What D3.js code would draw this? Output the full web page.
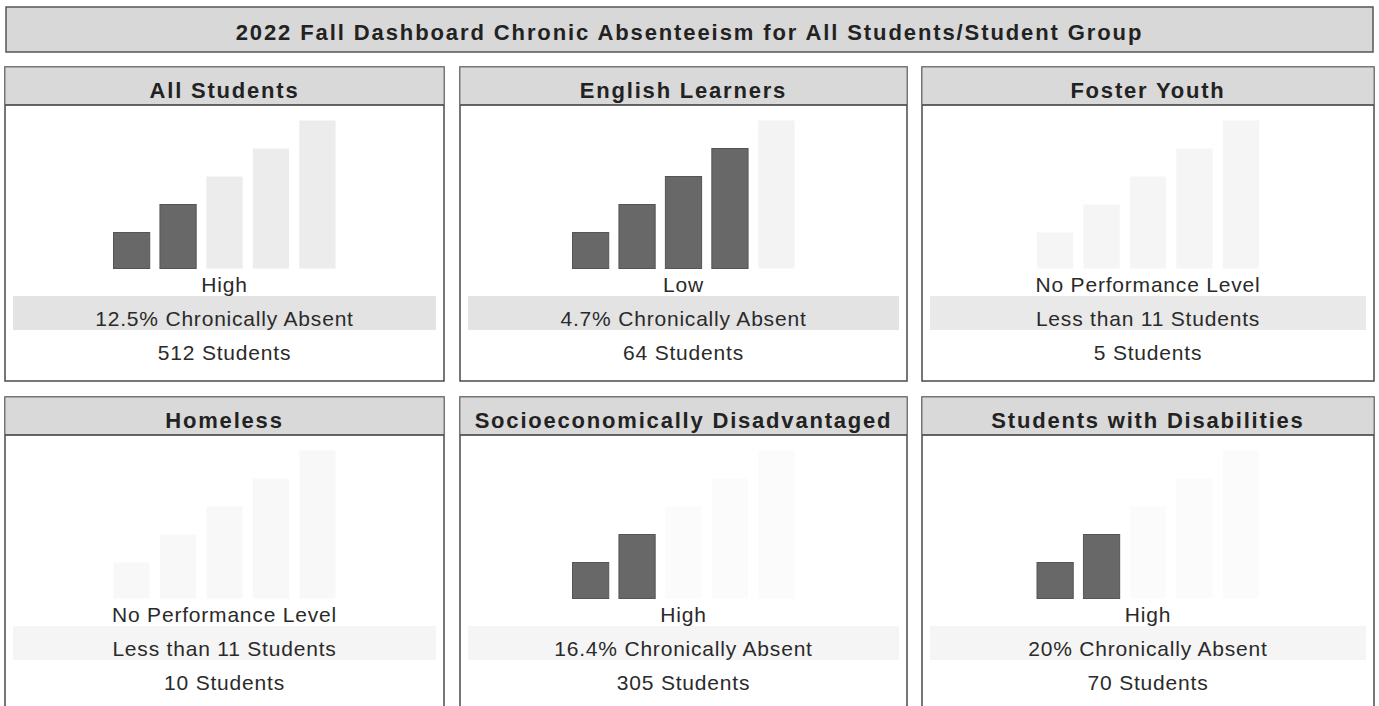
<!DOCTYPE html>
<html>
<head>
<meta charset="utf-8">
<script src="https://cdn.jsdelivr.net/npm/d3@7"></script>
<style>
  html, body { margin: 0; padding: 0; background: #ffffff; }
  svg { display: block; }
  text { font-family: "Liberation Sans", Arial, Helvetica, sans-serif; }
</style>
</head>
<body>
<svg id="chart" width="1379" height="706"></svg>
<script>
// ---------- data ----------
const chartTitle = "2022 Fall Dashboard Chronic Absenteeism for All Students/Student Group";
const groups = ["All Students", "English Learners", "Foster Youth", "Homeless", "Socioeconomically Disadvantaged", "Students with Disabilities"];
const statusLevels = ["High", "Low", "No Performance Level", "No Performance Level", "High", "High"];
const absentRates = [12.5, 4.7, null, null, 16.4, 20];
const studentCounts = [512, 64, 5, 10, 305, 70];
const filledBars = [2, 4, 0, 0, 2, 2];
const barLevels = [1, 2, 3, 4, 5];

// ---------- layout (not data) ----------
const W = 1379, H = 706;
const colX = [5, 460, 922];
const colW = [439, 447, 452];
const rowY = [67, 397];
const panelH = 314, headerH = 38;
const faintFill = ["#ececec", "#f3f3f3", "#f5f5f5", "#f8f8f8", "#fbfbfb", "#fbfbfb"];
const bandFill = ["#e3e3e3", "#e3e3e3", "#e9e9e9", "#f5f5f5", "#f5f5f5", "#f5f5f5"];

const svg = d3.select("#chart");

// Title bar
svg.append("rect").attr("x", 6).attr("y", 7).attr("width", 1367).attr("height", 45)
  .attr("fill", "#d8d8d8").attr("stroke", "#555").attr("stroke-width", 1.5);
svg.append("text").attr("x", 6 + 1367 / 2).attr("y", 40)
  .attr("text-anchor", "middle").attr("font-size", 22).attr("font-weight", "bold")
  .attr("letter-spacing", "1.9px").attr("fill", "#222").text(chartTitle);

const hScale = d3.scaleLinear().domain([1, 5]).range([36, 148]);

groups.forEach((g, i) => {
  const col = i % 3, row = Math.floor(i / 3);
  const x0 = colX[col], w = colW[col], y0 = rowY[row];
  const cx = x0 + w / 2;
  const p = svg.append("g");

  // panel body
  p.append("rect").attr("x", x0).attr("y", y0).attr("width", w).attr("height", panelH)
    .attr("fill", "#fff").attr("stroke", "#4a4a4a").attr("stroke-width", 1.5);
  // header
  p.append("rect").attr("x", x0).attr("y", y0).attr("width", w).attr("height", headerH)
    .attr("fill", "#d9d9d9").attr("stroke", "#777").attr("stroke-width", 1);
  p.append("line").attr("x1", x0).attr("x2", x0 + w).attr("y1", y0 + headerH).attr("y2", y0 + headerH)
    .attr("stroke", "#4a4a4a").attr("stroke-width", 1.5);
  p.append("text").attr("x", cx).attr("y", y0 + 31)
    .attr("text-anchor", "middle").attr("font-size", 22).attr("font-weight", "bold")
    .attr("letter-spacing", "1.8px").attr("fill", "#222").text(g);

  // status bars
  const xb = d3.scaleBand().domain(barLevels).range([cx - 111, cx + 111]).paddingInner(0.22).paddingOuter(0);
  const base = y0 + 201.5;
  p.selectAll("rect.bar").data(barLevels).join("rect").attr("class", "bar")
    .attr("x", d => xb(d)).attr("width", xb.bandwidth())
    .attr("y", d => base - hScale(d)).attr("height", d => hScale(d))
    .attr("fill", d => d <= filledBars[i] ? "#686868" : faintFill[i])
    .attr("stroke", d => d <= filledBars[i] ? "#555" : "none")
    .attr("stroke-width", 1);

  // band behind second line
  p.append("rect").attr("x", x0 + 8).attr("y", y0 + 229).attr("width", w - 16).attr("height", 34)
    .attr("fill", bandFill[i]);

  const lines = [
    statusLevels[i],
    absentRates[i] === null ? "Less than 11 Students" : `${absentRates[i]}% Chronically Absent`,
    `${studentCounts[i]} Students`
  ];
  lines.forEach((t, k) => {
    p.append("text").attr("x", cx).attr("y", y0 + 224.5 + k * 34)
      .attr("text-anchor", "middle").attr("font-size", 21)
      .attr("letter-spacing", "0.8px").attr("fill", "#2a2a2a").text(t);
  });
});
</script>
</body>
</html>
